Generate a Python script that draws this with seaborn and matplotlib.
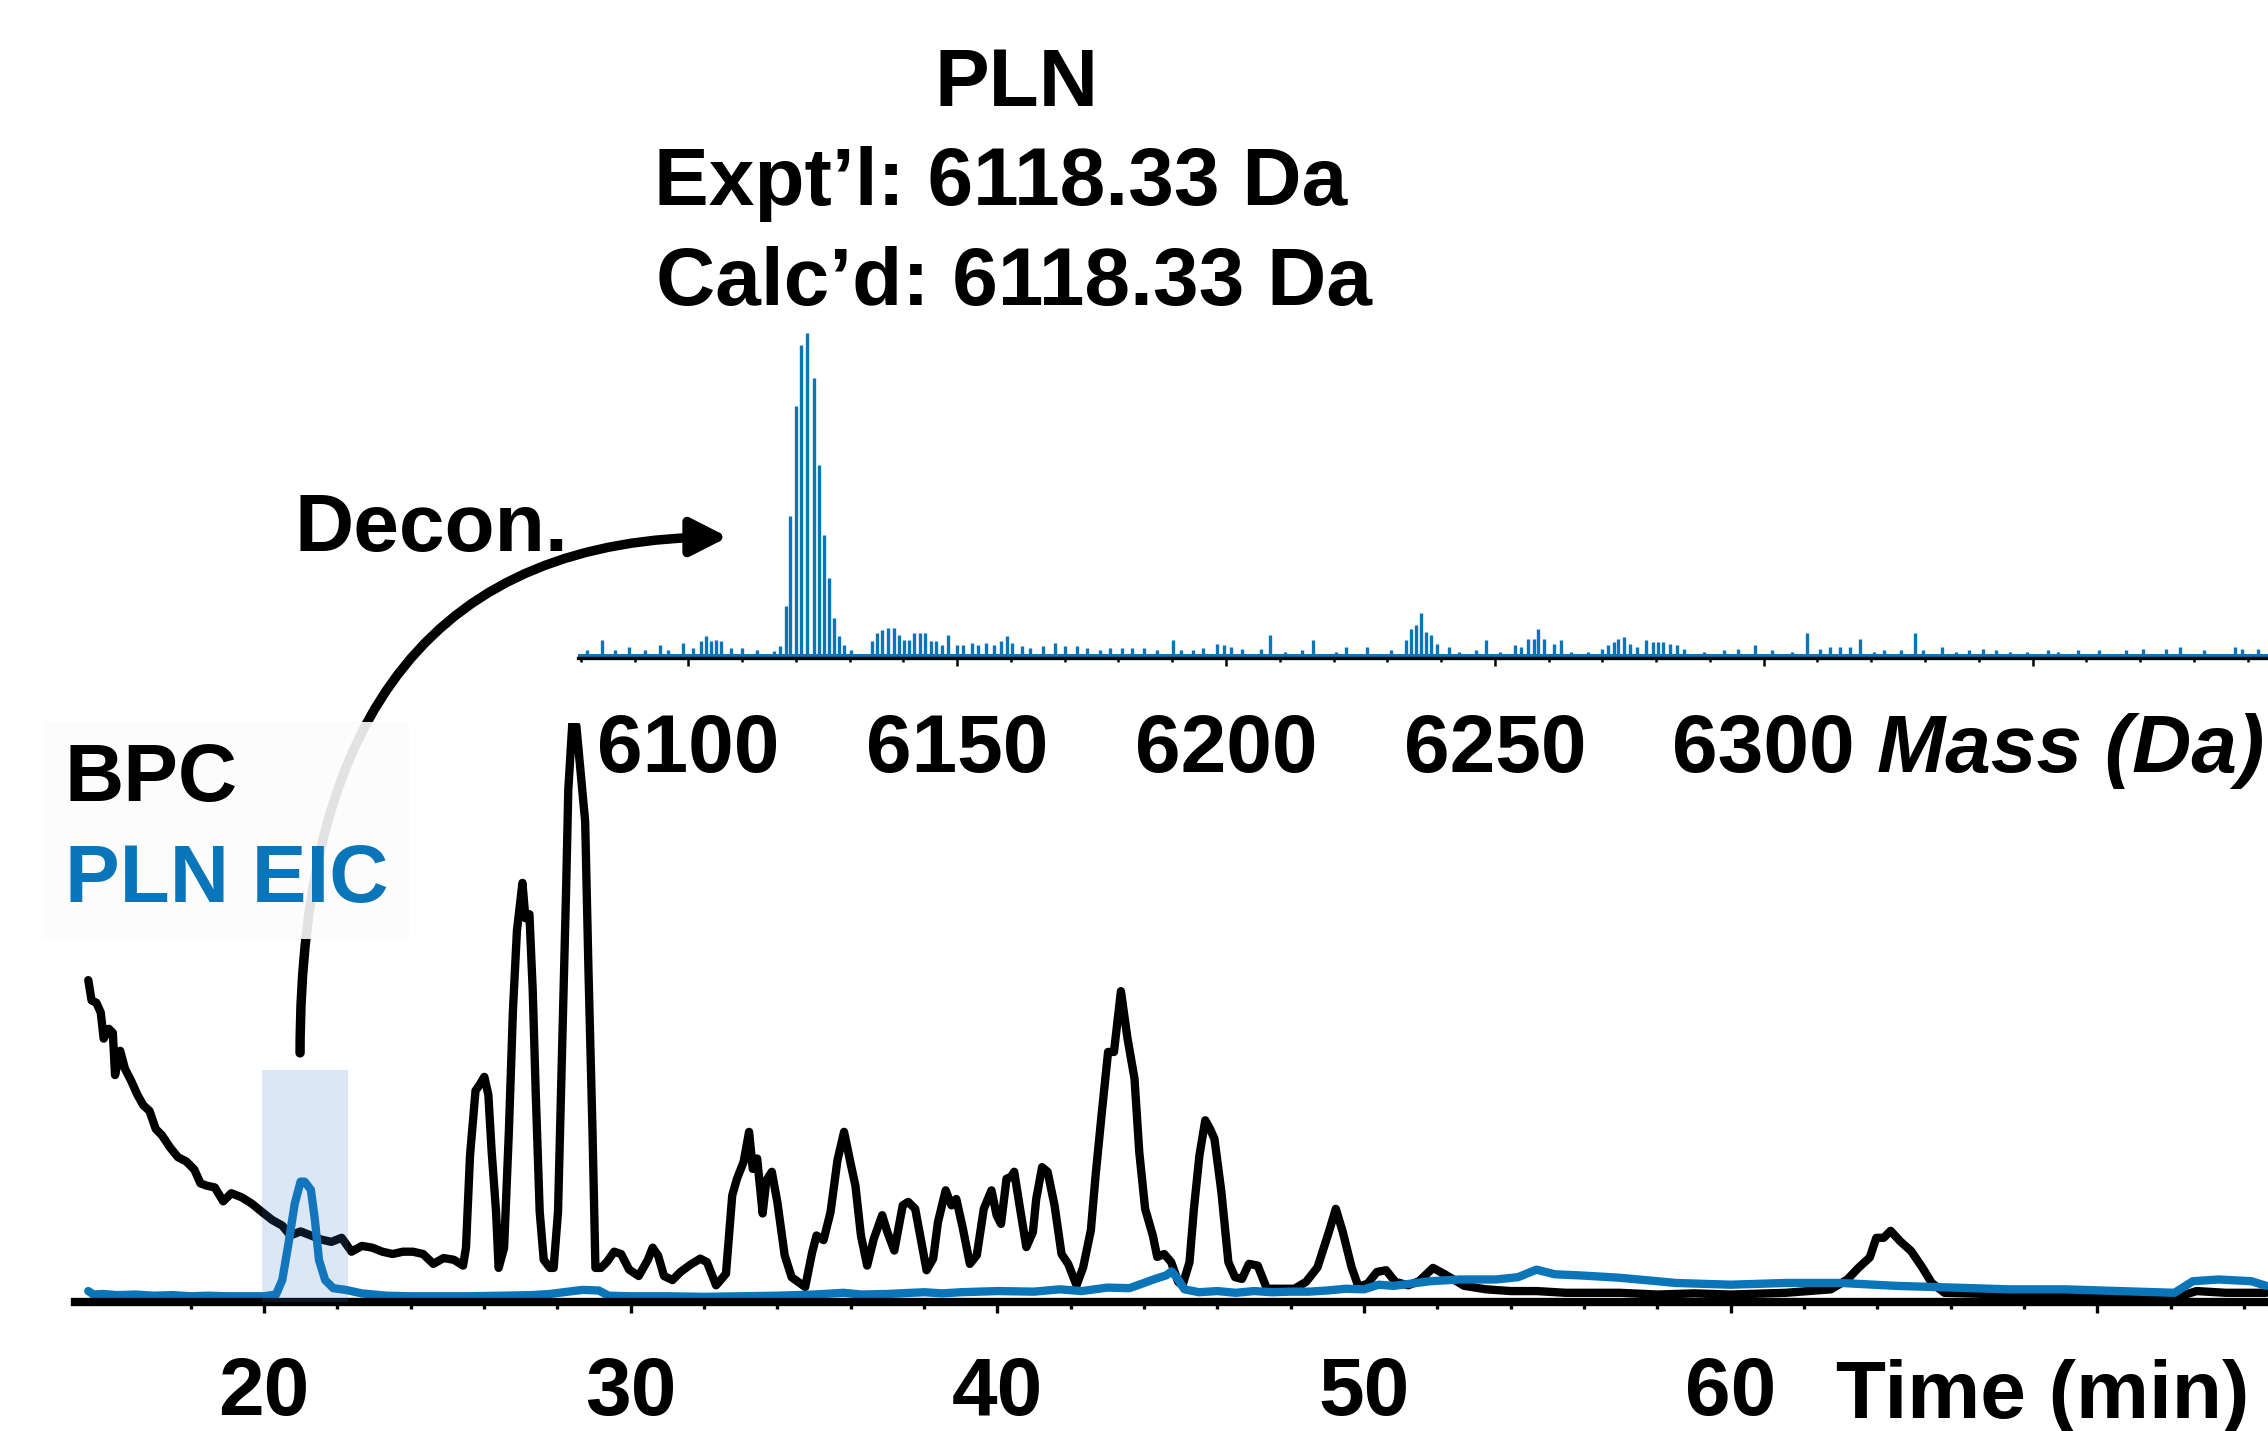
import matplotlib
matplotlib.use("Agg")
import numpy as np
import pandas as pd
import matplotlib.pyplot as plt
import seaborn as sns
from matplotlib.patches import FancyArrowPatch, Rectangle
from matplotlib.ticker import FixedLocator

# ---------------- data ----------------
bpc_time = [15.21, 15.30, 15.43, 15.55, 15.63, 15.77, 15.88, 15.94, 16.08, 16.21, 16.38, 16.55, 16.71,
            16.88, 17.05, 17.22, 17.44, 17.66, 17.88, 18.10, 18.27, 18.44, 18.66, 18.89, 19.11, 19.39,
            19.67, 19.94, 20.22, 20.50, 20.72, 21.00, 21.28, 21.56, 21.84, 22.12, 22.39, 22.67, 22.95,
            23.23, 23.51, 23.79, 24.06, 24.34, 24.62, 24.90, 25.18, 25.43, 25.51, 25.62, 25.77, 25.88,
            26.01, 26.12, 26.21, 26.33, 26.40, 26.55, 26.68, 26.79, 26.90, 27.05, 27.13, 27.24, 27.33,
            27.41, 27.52, 27.63, 27.80, 27.90, 28.02, 28.13, 28.24, 28.30, 28.41, 28.52, 28.63, 28.76,
            28.85, 28.96, 29.04, 29.19, 29.35, 29.55, 29.74, 29.96, 30.22, 30.47, 30.60, 30.75, 30.91,
            31.14, 31.36, 31.64, 31.90, 32.08, 32.33, 32.60, 32.77, 32.90, 33.08, 33.23, 33.33, 33.45,
            33.60, 33.70, 33.85, 34.00, 34.20, 34.39, 34.76, 34.95, 35.07, 35.26, 35.45, 35.64, 35.82,
            35.99, 36.13, 36.28, 36.45, 36.63, 36.86, 37.00, 37.19, 37.42, 37.57, 37.76, 38.07, 38.25,
            38.38, 38.59, 38.75, 38.88, 39.06, 39.25, 39.44, 39.63, 39.84, 39.98, 40.10, 40.25, 40.37,
            40.46, 40.62, 40.79, 40.97, 41.06, 41.22, 41.37, 41.56, 41.75, 41.93, 42.16, 42.34, 42.55,
            42.68, 42.84, 43.02, 43.18, 43.37, 43.55, 43.74, 43.87, 44.03, 44.24, 44.36, 44.55, 44.74,
            44.93, 45.05, 45.24, 45.36, 45.51, 45.67, 45.80, 45.92, 46.11, 46.30, 46.48, 46.67, 46.86,
            47.10, 47.35, 47.72, 48.10, 48.42, 48.73, 49.04, 49.23, 49.42, 49.66, 49.85, 50.10, 50.35,
            50.60, 50.85, 51.20, 51.50, 51.88, 52.20, 52.73, 53.33, 54.00, 54.70, 55.50, 56.97, 58.00,
            59.00, 60.00, 61.50, 62.73, 63.18, 63.48, 63.79, 63.97, 64.17, 64.36, 64.62, 64.92, 65.23,
            65.48, 65.83, 67.58, 68.50, 70.60, 72.40, 72.70, 73.50, 74.60]
bpc_int = [55.6, 52.1, 51.7, 50.0, 45.5, 47.2, 46.5, 39.2, 43.4, 40.3, 38.2, 35.8, 34.0,
           33.0, 29.9, 28.8, 26.7, 25.0, 24.3, 22.9, 20.5, 20.1, 19.8, 17.4, 18.8, 18.1,
           17.0, 15.6, 14.2, 13.2, 11.5, 12.2, 11.5, 10.8, 10.4, 11.1, 8.7, 9.7, 9.4,
           8.7, 8.3, 8.7, 8.7, 8.3, 6.6, 7.6, 7.3, 6.3, 9.4, 25.3, 36.5, 37.5,
           38.9, 35.8, 26.0, 15.6, 5.9, 9.4, 29.5, 50.3, 64.2, 72.4, 66.3, 67.0, 53.8,
           36.5, 15.6, 7.3, 5.9, 5.9, 15.6, 43.4, 71.2, 88.5, 100.0, 99.5, 92.0, 83.0,
           57.3, 29.5, 5.9, 5.9, 6.9, 8.7, 8.3, 5.6, 4.5, 7.3, 9.4, 8.0, 4.5,
           3.8, 5.2, 6.5, 7.5, 6.9, 2.9, 4.9, 18.4, 21.3, 24.2, 29.4, 23.0, 24.8,
           15.3, 21.0, 22.5, 17.3, 8.1, 4.3, 2.6, 8.6, 11.5, 10.7, 15.5, 24.5, 29.4,
           24.2, 20.1, 11.5, 6.3, 10.9, 15.0, 12.1, 8.9, 16.7, 17.3, 16.1, 5.5, 7.5,
           13.8, 19.3, 16.7, 17.8, 12.7, 6.6, 8.1, 16.1, 19.3, 15.0, 13.5, 21.3, 21.6,
           22.5, 16.1, 9.5, 12.1, 17.8, 23.3, 22.5, 16.7, 8.3, 6.6, 2.9, 6.0, 12.4,
           21.9, 32.2, 43.2, 43.2, 53.7, 45.5, 38.6, 25.9, 16.1, 11.5, 7.8, 8.3, 6.9,
           3.5, 2.9, 6.9, 16.1, 25.3, 31.4, 29.9, 28.2, 19.0, 6.9, 4.3, 4.0, 6.6,
           6.3, 2.3, 2.3, 2.3, 3.5, 6.0, 12.1, 16.1, 12.1, 6.0, 2.6, 3.2, 5.2,
           5.5, 3.5, 2.9, 3.6, 5.9, 4.8, 2.8, 2.2, 1.9, 1.9, 1.6, 1.6, 1.3,
           1.5, 1.3, 1.6, 2.2, 3.9, 5.9, 7.7, 11.1, 11.1, 12.3, 10.5, 8.8, 5.9,
           3.3, 1.6, 1.3, 1.4, 1.1, 1.3, 1.9, 1.6, 1.6]

eic_time = [15.21, 15.35, 15.60, 16.00, 16.50, 17.00, 17.50, 18.00, 18.50, 19.00, 19.50, 20.00,
            20.33, 20.50, 20.67, 20.84, 21.00, 21.11, 21.28, 21.39, 21.50, 21.67, 21.89, 22.23,
            22.67, 23.34, 24.00, 25.00, 25.57, 26.50, 27.30, 27.80, 28.30, 28.69, 29.13, 29.40,
            30.00, 31.00, 32.00, 33.00, 34.00, 35.00, 35.80, 36.30, 37.00, 38.00, 38.50, 39.00,
            40.00, 41.00, 41.70, 42.30, 43.00, 43.60, 44.00, 44.30, 44.60, 44.75, 44.90, 45.10,
            45.50, 46.00, 46.50, 47.00, 47.50, 48.00, 48.50, 49.00, 49.50, 50.00, 50.40, 50.80,
            51.30, 51.80, 52.60, 53.60, 54.20, 54.70, 55.20, 55.90, 56.97, 58.00, 58.50, 60.00,
            61.50, 63.00, 64.50, 66.06, 67.60, 69.10, 70.60, 72.10, 72.60, 73.30, 74.20, 74.60]
eic_int = [1.9, 1.3, 1.4, 1.2, 1.3, 1.1, 1.2, 1.0, 1.1, 1.0, 1.0, 1.0,
           1.3, 3.8, 10.1, 17.0, 20.8, 20.8, 19.4, 14.2, 7.3, 3.8, 2.4, 2.1,
           1.5, 1.1, 1.0, 1.0, 1.0, 1.1, 1.2, 1.4, 1.8, 2.1, 2.0, 1.1,
           1.0, 1.0, 0.9, 1.0, 1.1, 1.3, 1.6, 1.3, 1.4, 1.7, 1.5, 1.7,
           1.9, 1.8, 2.2, 1.9, 2.5, 2.4, 3.3, 4.0, 4.6, 5.3, 4.2, 2.2,
           1.7, 1.9, 1.6, 1.9, 1.7, 1.8, 1.8, 2.0, 2.3, 2.2, 3.0, 2.8,
           3.2, 3.6, 3.9, 3.9, 4.3, 5.6, 4.8, 4.6, 4.2, 3.6, 3.3, 3.0,
           3.3, 3.3, 2.8, 2.5, 2.2, 2.2, 1.9, 1.6, 3.6, 3.9, 3.6, 2.8]

# deconvoluted spectrum: isotope cluster + small peaks
cluster_mass = [6118.1, 6119.0, 6120.0, 6120.9, 6122.1, 6123.3, 6124.3, 6125.2, 6126.2, 6127.1, 6128.0]
cluster_int = [15.9, 43.6, 77.4, 96.4, 100.0, 86.2, 59.5, 37.9, 24.6, 12.3, 6.7]
noise_mass = [6081.1, 6083.9, 6086.4, 6089.0, 6092.0, 6094.8, 6096.2, 6099.1, 6100.8, 6102.3, 6103.3,
              6104.2, 6105.2, 6106.1, 6108.0, 6110.0, 6112.7, 6115.9, 6117.0, 6129.0, 6130.3, 6134.1,
              6135.0, 6136.1, 6137.1, 6138.3, 6139.2, 6140.2, 6141.1, 6142.0, 6143.0, 6144.1, 6145.1,
              6146.1, 6147.1, 6148.3, 6150.0, 6151.1, 6152.7, 6153.8, 6155.3, 6156.8, 6158.2, 6159.2,
              6160.2, 6162.1, 6163.6, 6165.9, 6168.2, 6170.1, 6172.3, 6174.2, 6176.5, 6178.4, 6180.7,
              6182.6, 6184.8, 6187.1, 6190.2, 6191.7, 6193.9, 6195.8, 6198.4, 6199.6, 6200.9, 6203.0,
              6206.6, 6208.1, 6211.0, 6214.2, 6216.1, 6220.5, 6222.4, 6226.2, 6230.6, 6233.4, 6234.4,
              6235.4, 6236.2, 6237.2, 6238.2, 6239.2, 6241.4, 6243.3, 6246.5, 6248.4, 6250.9, 6253.7,
              6254.9, 6256.2, 6257.2, 6258.1, 6259.1, 6261.0, 6262.3, 6264.2, 6267.3, 6269.9, 6271.1,
              6272.2, 6273.0, 6274.1, 6275.2, 6276.5, 6278.1, 6279.4, 6280.3, 6281.3, 6282.5, 6283.8,
              6285.1, 6288.9, 6292.7, 6295.2, 6298.4, 6301.5, 6305.3, 6308.1, 6310.4, 6312.3, 6314.2,
              6316.1, 6318.0, 6320.5, 6322.4, 6325.6, 6328.1, 6329.6, 6333.2, 6335.7, 6338.2, 6340.8,
              6343.3, 6345.8, 6349.0, 6352.8, 6354.7, 6358.5, 6362.3, 6367.3, 6370.5, 6374.9, 6377.5,
              6381.9, 6387.6, 6388.9, 6392.0]
noise_int = [2.4, 5.6, 2.6, 3.4, 2.6, 4.1, 2.6, 4.6, 3.1, 5.1, 6.7,
             5.1, 5.4, 5.1, 3.1, 3.1, 2.6, 2.1, 3.6, 4.1, 2.6, 5.1,
             7.7, 8.7, 9.2, 9.2, 7.2, 5.6, 5.6, 7.7, 7.7, 7.7, 5.1,
             5.1, 4.1, 7.2, 4.1, 4.1, 4.6, 4.1, 4.6, 4.1, 5.1, 6.7,
             4.6, 3.6, 3.1, 3.6, 4.6, 3.6, 3.6, 3.1, 2.6, 3.1, 3.1,
             3.1, 3.1, 2.6, 5.6, 2.6, 2.6, 3.1, 4.4, 3.9, 3.4, 2.7,
             2.9, 7.2, 1.8, 2.4, 5.4, 1.8, 3.4, 3.4, 2.4, 5.4, 9.0,
             10.1, 13.9, 8.0, 7.0, 4.4, 3.4, 1.8, 2.4, 5.4, 1.8, 3.9,
             3.4, 5.9, 5.9, 9.0, 5.9, 4.4, 5.4, 1.8, 1.8, 2.9, 3.9,
             4.9, 5.9, 6.5, 4.4, 3.4, 5.4, 4.9, 4.9, 4.9, 4.4, 3.9,
             2.9, 1.8, 2.4, 2.9, 3.9, 2.4, 1.8, 7.7, 2.9, 3.4, 3.4,
             3.4, 5.9, 1.8, 2.4, 2.4, 7.7, 2.4, 3.4, 1.8, 2.4, 2.9,
             2.4, 1.8, 1.8, 2.4, 1.8, 2.4, 2.4, 2.4, 2.9, 2.9, 3.4,
             2.4, 3.4, 2.9, 2.9]
ms_floor = 1.3

time_ticks = [20, 30, 40, 50, 60, 70]
time_tick_labels = ["20", "30", "40", "50", "60", ""]
mass_ticks = [6100, 6150, 6200, 6250, 6300, 6350]
mass_tick_labels = ["6100", "6150", "6200", "6250", "6300", ""]

BLUE = "#0a75b9"

# ---------------- style ----------------
sns.set_theme(style="white")
plt.rcParams['font.family'] = ['Liberation Sans', 'DejaVu Sans']
plt.rcParams['font.weight'] = 'bold'
plt.rcParams['text.color'] = 'black'
plt.rcParams['xtick.color'] = 'black'
plt.rcParams['xtick.labelcolor'] = 'black'
plt.rcParams['axes.labelcolor'] = 'black'

fig = plt.figure(figsize=(11.34, 7.155), dpi=200)
ax = fig.add_axes([0.0331, 0.0901, 0.9669, 0.4046])
axm = fig.add_axes([0.2549, 0.5402, 0.7451, 0.2271])
axm.set_facecolor('none')
ax.set_facecolor('none')

bpc = pd.DataFrame({"time": bpc_time, "intensity": bpc_int})
eic = pd.DataFrame({"time": eic_time, "intensity": eic_int})
sns.lineplot(data=bpc, x="time", y="intensity", ax=ax, color="black", linewidth=3.0,
             sort=False, estimator=None, label="BPC")
sns.lineplot(data=eic, x="time", y="intensity", ax=ax, color=BLUE, linewidth=3.0,
             sort=False, estimator=None, label="PLN EIC")
for ln in ax.get_lines():
    ln.set_linewidth(3.0)
    ln.set_solid_joinstyle("round")
handles, labels = ax.get_legend_handles_labels()
if ax.get_legend() is not None:
    ax.get_legend().remove()

# highlighted EIC window
ax.add_patch(Rectangle((19.94, 0), 22.3 - 19.94, 40, facecolor="#3f7fd0", alpha=0.18,
                       edgecolor="none", zorder=5))

ax.set_xlim(14.85, 74.65)
ax.set_ylim(0, 100)
ax.set_xlabel("")
ax.set_ylabel("")
ax.set_yticks([])
for s in ["top", "right", "left"]:
    ax.spines[s].set_visible(False)
ax.spines["bottom"].set_linewidth(3.0)
ax.spines["bottom"].set_color("black")
ax.xaxis.set_major_locator(FixedLocator(time_ticks))
ax.set_xticklabels(time_tick_labels)
ax.xaxis.set_minor_locator(FixedLocator([t for t in range(18, 75, 2) if t % 10 != 0]))
ax.tick_params(axis="x", which="major", bottom=True, direction="out", length=3.8, width=1.2,
               pad=15.5, labelsize=29.5, color="black", labelcolor="black")
ax.tick_params(axis="x", which="minor", bottom=True, direction="out", length=2.4, width=1.2,
               color="black")

# spectrum
axm.axhspan(0, ms_floor, color=BLUE, lw=0)
axm.vlines(noise_mass, 0, noise_int, color=BLUE, lw=1.2)
axm.vlines(cluster_mass, 0, cluster_int, color=BLUE, lw=1.2)
axm.set_xlim(6079.5, 6393.8)
axm.set_ylim(0, 100)
axm.set_yticks([])
for s in ["top", "right", "left"]:
    axm.spines[s].set_visible(False)
axm.spines["bottom"].set_linewidth(1.2)
axm.spines["bottom"].set_color("black")
axm.xaxis.set_major_locator(FixedLocator(mass_ticks))
axm.set_xticklabels(mass_tick_labels)
axm.xaxis.set_minor_locator(FixedLocator([m for m in range(6080, 6394, 10) if m % 50 != 0]))
axm.tick_params(axis="x", which="major", bottom=True, direction="out", length=2.9, width=0.9,
                pad=17.0, labelsize=29.5, color="black", labelcolor="black")
axm.tick_params(axis="x", which="minor", bottom=True, direction="out", length=1.6, width=0.9,
                color="black")

# texts
fs = 29.5
fig.text(0.448, 0.9259, "PLN", ha="center", va="baseline", fontsize=fs, fontweight="bold", color="black")
fig.text(0.2884, 0.8567, "Expt\u2019l: 6118.33 Da", ha="left", va="baseline", fontsize=fs,
         fontweight="bold", color="black")
fig.text(0.2892, 0.7869, "Calc\u2019d: 6118.33 Da", ha="left", va="baseline", fontsize=fs,
         fontweight="bold", color="black")
fig.text(0.9985, 0.4605, "Mass (Da)", ha="right", va="baseline", fontsize=fs, fontweight="bold",
         style="italic", color="black")
fig.text(0.9916, 0.0091, "Time (min)", ha="right", va="baseline", fontsize=fs, fontweight="bold",
         color="black")

# arrow from EIC peak to spectrum
arrow = FancyArrowPatch(posA=(0.1323, 0.2642), posB=(0.3210, 0.6247), transform=fig.transFigure,
                        connectionstyle="angle3,angleA=90,angleB=0",
                        arrowstyle="-|>,head_length=11,head_width=5.6", mutation_scale=1,
                        lw=3.4, color="black", shrinkA=0, shrinkB=0, zorder=1)
fig.add_artist(arrow)
fig.text(0.13, 0.6150, "Decon.", ha="left", va="baseline", fontsize=fs, fontweight="bold",
         color="black", zorder=6)

leg = fig.legend(handles, labels, loc="upper left", bbox_to_anchor=(0.0195, 0.4955),
                 handlelength=0, handletextpad=0, labelcolor="linecolor", fontsize=fs,
                 frameon=True, facecolor="#fcfcfc", edgecolor="none", framealpha=0.9,
                 fancybox=False, borderpad=0.25, labelspacing=0.30, borderaxespad=0)
for h in leg.legend_handles:
    h.set_visible(False)
leg.set_zorder(5)

fig.savefig("out.png", dpi=200)
